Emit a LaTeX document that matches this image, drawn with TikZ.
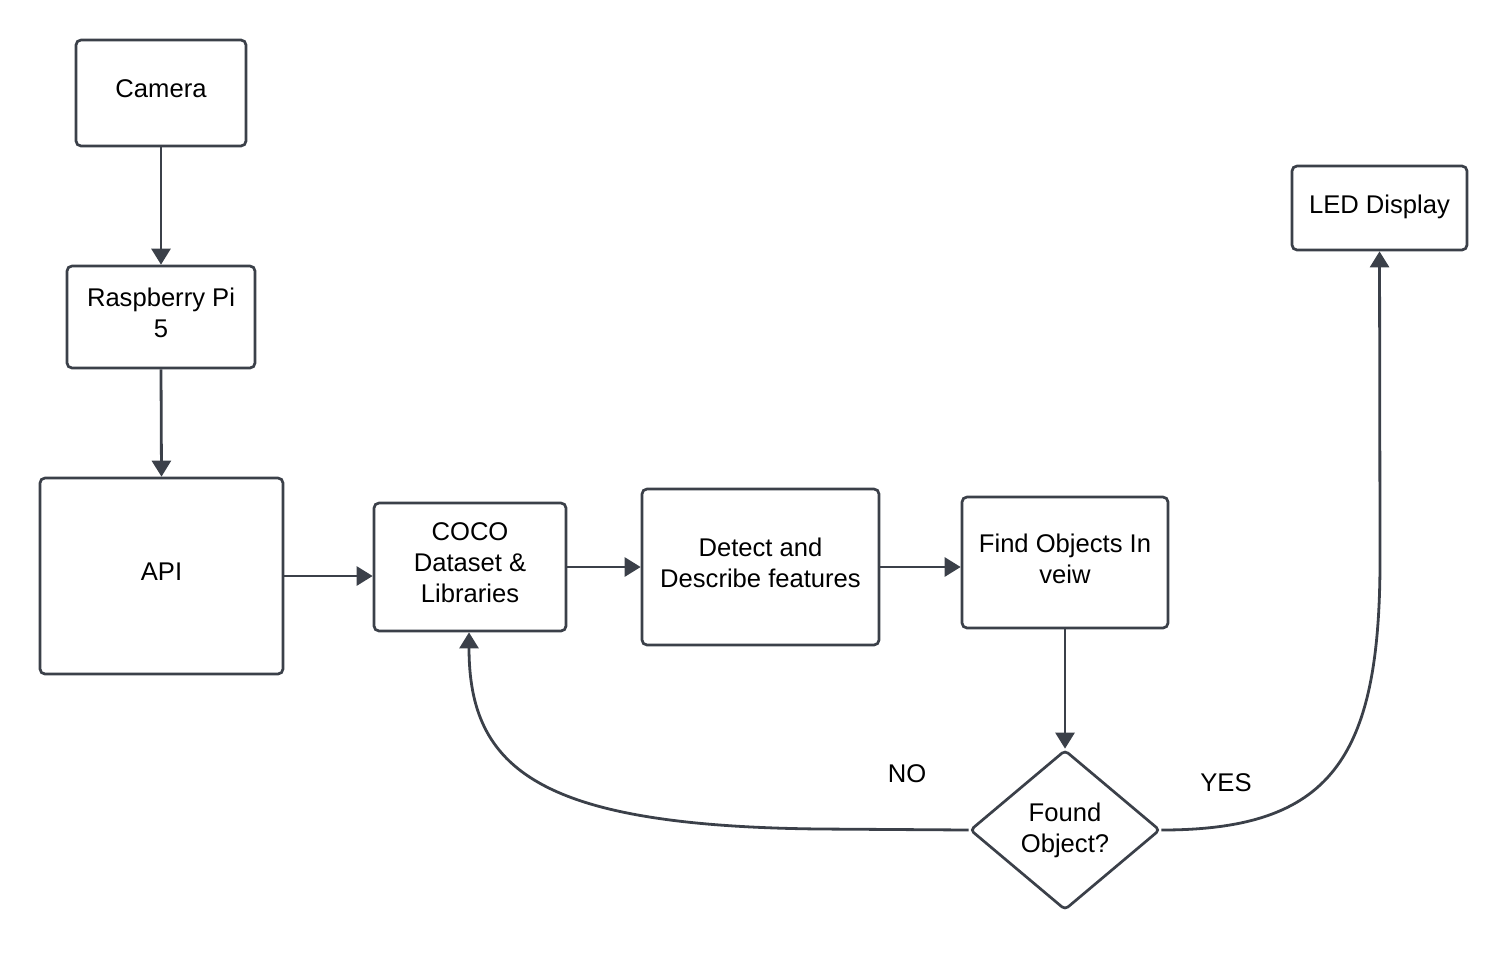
\documentclass[tikz,border=0pt]{standalone}
\usepackage{fontspec}
\setmainfont{Liberation Sans}
\usetikzlibrary{arrows.meta,shapes.geometric}
\definecolor{ln}{HTML}{3B4049}
\begin{document}
\begin{tikzpicture}[x=0.5pt,y=-0.5pt,
  box/.style={draw=ln,line width=1.35pt,rounded corners=2.5pt,fill=white,align=center,inner sep=0pt,
    text depth=4pt,font=\fontsize{12.8}{15.5}\selectfont},
  dia/.style={diamond,draw=ln,line width=1.35pt,rounded corners=2pt,align=center,inner sep=0pt,aspect=1.2,
    font=\fontsize{12.8}{15.5}\selectfont},
  arr/.style={draw=ln,line width=1.4pt,-{Triangle[width=9.5pt,length=8pt]}},
  lbl/.style={font=\fontsize{12.8}{15.5}\selectfont,inner sep=0pt}]
\useasboundingbox (0,0) rectangle (1507,954);
\node[box,minimum width=85pt,minimum height=53pt] (cam) at (161,93) {Camera};
\node[box,minimum width=94pt,minimum height=51pt] (rpi) at (161,317) {Raspberry Pi\\5};
\node[box,minimum width=121.5pt,minimum height=98pt] (api) at (161.5,576) {API};
\node[box,minimum width=96pt,minimum height=64pt] (coco) at (470,567) {COCO\\Dataset \&\\Libraries};
\node[box,minimum width=118.5pt,minimum height=78pt] (det) at (760.5,567) {Detect and\\Describe features};
\node[box,minimum width=103pt,minimum height=65.5pt] (find) at (1065,562.5) {Find Objects In\\veiw};
\node[box,minimum width=87.5pt,minimum height=42pt] (led) at (1379.5,208) {LED Display};
\node[dia,minimum width=95pt,minimum height=80pt] (fo) at (1065,830) {Found\\Object?};
\node[lbl] (no) at (907,774) {NO};
\node[lbl] (yes) at (1226,783) {YES};
\draw[arr] (cam.south) -- (rpi.north);
\draw[arr] (rpi.south) -- (api.north);
\draw[arr] (api.east |- 0,576) -- (coco.west |- 0,576);
\draw[arr] (coco.east) -- (det.west);
\draw[arr] (det.east) -- (find.west |- det.east);
\draw[arr] (find.south) -- (fo.north);
\draw[arr] (fo.west) -- (820,829) .. controls (540,826) and (469,770) .. (coco.south -| 469,0);
\draw[arr] (fo.east) .. controls (1330,830) and (1380,760) .. (1380,560) -- (led.south);
\end{tikzpicture}
\end{document}
